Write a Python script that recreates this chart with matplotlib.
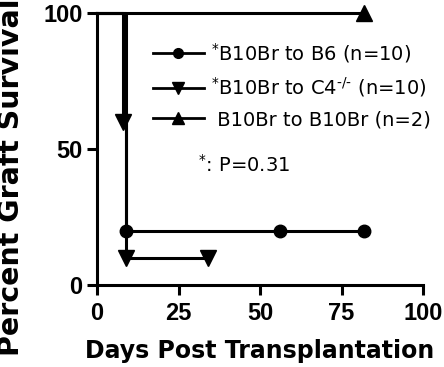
import matplotlib
matplotlib.use('Agg')
import matplotlib.pyplot as plt
from matplotlib.lines import Line2D

# Kaplan-Meier style data (days, percent surviving)
b6_days = [0, 9, 56, 82]
b6_surv = [100, 20, 20, 20]
c4_days = [0, 8, 9, 34]
c4_surv = [100, 60, 10, 10]
b10_days = [0, 82]
b10_surv = [100, 100]

labels = [r'$^{*}$B10Br to B6 (n=10)',
          r'$^{*}$B10Br to C4$^{\text{-/-}}$ (n=10)',
          r' B10Br to B10Br (n=2)']
x_ticks = [0, 25, 50, 75, 100]
y_ticks = [0, 50, 100]

fig = plt.figure(figsize=(4.44, 3.67), dpi=100)
ax = fig.add_axes([97/444, 82/367, 326/444, 272/367])

lw = 2.2
series = [(b6_days, b6_surv, 'o', 9, 7),
          (c4_days, c4_surv, 'v', 11, 9),
          (b10_days, b10_surv, '^', 11, 9)]
handles = []
for days, surv, mk, ms, leg_ms in series:
    ax.step(days, surv, where='post', color='black', lw=lw, clip_on=False)
    ax.plot(days[1:], surv[1:], linestyle='none', marker=mk, ms=ms,
            color='black', clip_on=False)
    # legend swatch uses smaller markers, like the original
    handles.append(Line2D([], [], color='black', lw=2, marker=mk, ms=leg_ms))

ax.set_xlim(0, 100)
ax.set_ylim(0, 100)
ax.set_xticks(x_ticks)
ax.set_yticks(y_ticks)
for s in ['top', 'right']:
    ax.spines[s].set_visible(False)
for s in ['left', 'bottom']:
    ax.spines[s].set_linewidth(lw)
ax.tick_params(width=lw, length=7.5, direction='out')
ax.tick_params(axis='x', pad=5)
ax.tick_params(axis='y', pad=3)
for t in ax.get_xticklabels() + ax.get_yticklabels():
    t.set_fontfamily('Liberation Sans')
    t.set_fontweight('bold')
    t.set_fontsize(17)

ax.set_xlabel('Days Post Transplantation', fontsize=17, fontweight='bold', labelpad=10)
fig.text(11/444, 1 - 177/367, 'Percent Graft Survival', rotation=90,
         fontsize=20.5, fontweight='bold', ha='center', va='center')

leg = ax.legend(handles, labels, loc='upper left', frameon=False, fontsize=14,
                bbox_to_anchor=(153/444, 1 - 41/367), bbox_transform=fig.transFigure,
                borderpad=0, borderaxespad=0, handlelength=2.6, handletextpad=0.4,
                labelspacing=0.55, numpoints=1)

ax.text(31, 44, r'$^{*}$: P=0.31', fontsize=14, va='center')

fig.savefig('out.png', dpi=100)
